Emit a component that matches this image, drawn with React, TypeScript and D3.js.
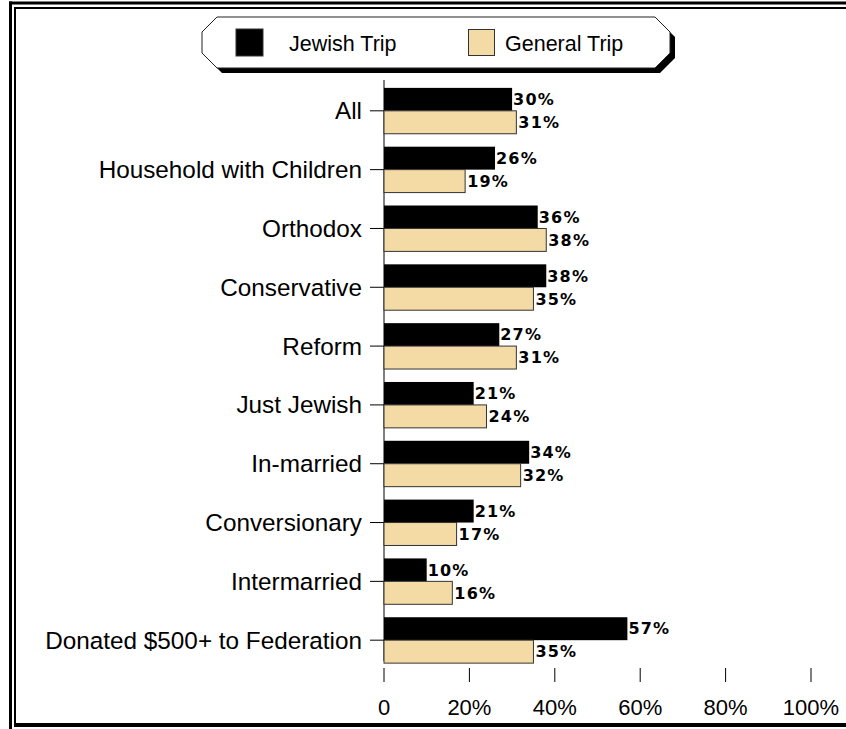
import React from "react";
import * as d3 from "d3";

const categories = [
  "All",
  "Household with Children",
  "Orthodox",
  "Conservative",
  "Reform",
  "Just Jewish",
  "In-married",
  "Conversionary",
  "Intermarried",
  "Donated $500+ to Federation",
];
const jewishTrip = [30, 26, 36, 38, 27, 21, 34, 21, 10, 57];
const generalTrip = [31, 19, 38, 35, 31, 24, 32, 17, 16, 35];
const xTicks = [0, 20, 40, 60, 80, 100];
const seriesNames = ["Jewish Trip", "General Trip"];
const seriesColors = ["#000000", "#F4DAA4"];

const W = 846;
const H = 729;
const FONT = "'Liberation Sans', Arial, sans-serif";
const VFONT = "'DejaVu Sans', Verdana, sans-serif";

export default function App() {
  const x = d3.scaleLinear().domain([0, 100]).range([384, 811]);
  const y = d3
    .scaleBand<string>()
    .domain(categories)
    .range([82, 669])
    .paddingInner(0.22)
    .paddingOuter(0.1);
  const bw = y.bandwidth();
  const half = bw / 2;

  // legend octagon
  const lx0 = 202, lx1 = 670, ly0 = 17, ly1 = 68, c = 15;
  const oct = (dx: number, dy: number) =>
    [
      [lx0 + c, ly0],
      [lx1 - c, ly0],
      [lx1, ly0 + c],
      [lx1, ly1 - c],
      [lx1 - c, ly1],
      [lx0 + c, ly1],
      [lx0, ly1 - c],
      [lx0, ly0 + c],
    ]
      .map((p) => `${p[0] + dx},${p[1] + dy}`)
      .join(" ");

  return (
    <div style={{ position: "absolute", left: 0, top: 0 }}>
      <svg width={W} height={H} style={{ display: "block", background: "#fff" }}>
        {/* frame */}
        <line x1={9} x2={W} y1={3} y2={3} stroke="#000" strokeWidth={3} />
        <line x1={10.5} x2={10.5} y1={1.5} y2={H} stroke="#000" strokeWidth={3} />
        <line x1={14} x2={W} y1={8} y2={8} stroke="#000" strokeWidth={2} />
        <line x1={15} x2={15} y1={7} y2={727} stroke="#000" strokeWidth={2} />
        <line x1={14} x2={W} y1={725} y2={725} stroke="#000" strokeWidth={4} />

        {/* legend */}
        <polygon points={oct(5, 5)} fill="#000" />
        <polygon points={oct(0, 0)} fill="#fff" stroke="#222" strokeWidth={1} />
        <rect x={236} y={29} width={27} height={27} fill={seriesColors[0]} stroke="#333" strokeWidth={1} />
        <text x={289} y={43} dy="0.35em" fontFamily={FONT} fontSize={21.5}>
          {seriesNames[0]}
        </text>
        <rect x={468.5} y={29.5} width={26} height={26} fill={seriesColors[1]} stroke="#333" strokeWidth={1} />
        <text x={505} y={43} dy="0.35em" fontFamily={FONT} fontSize={21.5}>
          {seriesNames[1]}
        </text>

        {/* y axis */}
        <line x1={384} x2={384} y1={80} y2={661} stroke="#000" strokeWidth={1} />
        {categories.map((cat, i) => {
          const y0 = y(cat) as number;
          const cy = y0 + half;
          return (
            <g key={cat}>
              <line x1={370} x2={384} y1={cy} y2={cy} stroke="#000" strokeWidth={1} />
              <text
                x={362}
                y={cy}
                dy="0.35em"
                textAnchor="end"
                fontFamily={FONT}
                fontSize={24.3}
              >
                {cat}
              </text>
              <rect x={x(0)} y={y0} width={x(jewishTrip[i]) - x(0)} height={half} fill={seriesColors[0]} />
              <rect
                x={x(0)}
                y={y0 + half}
                width={x(generalTrip[i]) - x(0)}
                height={half}
                fill={seriesColors[1]}
                stroke="#333"
                strokeWidth={1}
              />
              <text
                x={x(jewishTrip[i]) + 1}
                y={y0 + half / 2}
                dy="0.36em"
                fontFamily={VFONT}
                fontWeight="bold"
                fontSize={16}
                letterSpacing={1.2}
              >
                {jewishTrip[i]}%
              </text>
              <text
                x={x(generalTrip[i]) + 2}
                y={y0 + half + half / 2}
                dy="0.36em"
                fontFamily={VFONT}
                fontWeight="bold"
                fontSize={16}
                letterSpacing={1.2}
              >
                {generalTrip[i]}%
              </text>
            </g>
          );
        })}

        {/* x axis ticks */}
        {xTicks.map((t) => (
          <g key={t}>
            <line x1={x(t)} x2={x(t)} y1={668} y2={682} stroke="#000" strokeWidth={1} />
            <text x={x(t)} y={715} textAnchor="middle" fontFamily={FONT} fontSize={22}>
              {t === 0 ? "0" : `${t}%`}
            </text>
          </g>
        ))}
      </svg>
    </div>
  );
}
